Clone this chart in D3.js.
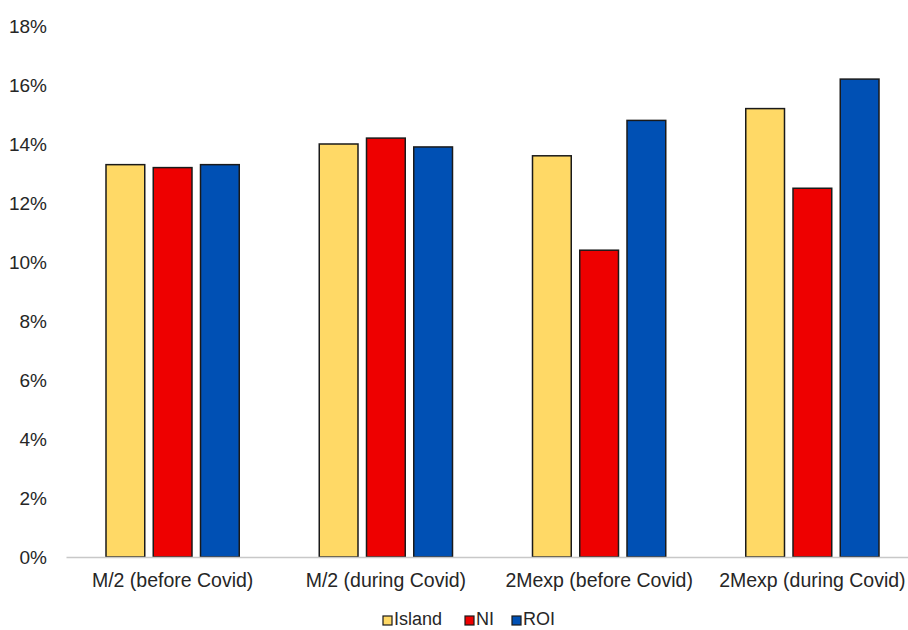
<!DOCTYPE html>
<html>
<head>
<meta charset="utf-8">
<script src="https://cdn.jsdelivr.net/npm/d3@7/dist/d3.min.js"></script>
<style>
  html, body { margin: 0; padding: 0; background: #fff; }
  svg { display: block; }
  text { font-family: "Liberation Sans", Arial, sans-serif; fill: #262626; }
</style>
</head>
<body>
<svg id="chart" width="908" height="630"></svg>
<script>
// Categories, series and tick labels
const categories = ["M/2 (before Covid)", "M/2 (during Covid)", "2Mexp (before Covid)", "2Mexp (during Covid)"];
const seriesNames = ["Island", "NI", "ROI"];
const islandValues = [13.3, 14.0, 13.6, 15.2];
const niValues = [13.2, 14.2, 10.4, 12.5];
const roiValues = [13.3, 13.9, 14.8, 16.2];
const yTicks = [0, 2, 4, 6, 8, 10, 12, 14, 16, 18];
const seriesColors = ["#FFD966", "#EE0000", "#0050B4"];

const seriesValues = [islandValues, niValues, roiValues];
const data = categories.map((c, i) => ({
  category: c,
  values: seriesNames.map((s, j) => ({ series: s, value: seriesValues[j][i] }))
}));

const svg = d3.select("#chart");
const margin = { left: 66, right: -11, top: 26, bottom: 73 };
const width = 908 - margin.left - margin.right;
const height = 630 - margin.top - margin.bottom;

const g = svg.append("g").attr("transform", `translate(${margin.left},${margin.top})`);

const x0 = d3.scaleBand().domain(categories).range([0, width]).padding(0);
const x1 = d3.scaleBand().domain(seriesNames)
  .range([40, x0.bandwidth() - 40]).paddingInner(0.18).paddingOuter(0);
const y = d3.scaleLinear().domain([0, 18]).range([height, 0]);
const color = d3.scaleOrdinal().domain(seriesNames).range(seriesColors);

// Y axis: labels only
const yAxis = d3.axisLeft(y).tickValues(yTicks).tickFormat(d => d + "%").tickSize(0).tickPadding(19);
g.append("g").call(yAxis)
  .call(a => a.select(".domain").remove())
  .selectAll("text").style("font-size", "19px").style("font-family", "'Liberation Sans', Arial, sans-serif").attr("fill", "#262626");

// Bars
const groups = g.selectAll(".grp").data(data).join("g")
  .attr("class", "grp")
  .attr("transform", d => `translate(${x0(d.category)},0)`);

groups.selectAll("rect").data(d => d.values).join("rect")
  .attr("x", d => x1(d.series))
  .attr("width", x1.bandwidth())
  .attr("y", d => y(d.value))
  .attr("height", d => y(0) - y(d.value))
  .attr("fill", d => color(d.series))
  .attr("stroke", "#1a1a1a")
  .attr("stroke-width", 1.5);

// X axis: baseline and category labels
const xAxis = d3.axisBottom(x0).tickSize(0).tickPadding(16);
const xg = g.append("g").attr("transform", `translate(0,${height})`).call(xAxis);
xg.select(".domain").attr("stroke", "#c8c8c8").attr("stroke-width", 1.5);
xg.selectAll("text").style("font-size", "19.5px").style("font-family", "'Liberation Sans', Arial, sans-serif").attr("fill", "#262626");

// Legend
const legend = svg.append("g").attr("transform", "translate(383,625)");
const legendOffsets = [0, 82, 129];
seriesNames.forEach((s, i) => {
  const item = legend.append("g").attr("transform", `translate(${legendOffsets[i]},0)`);
  item.append("rect").attr("x", 0).attr("y", -9).attr("width", 9).attr("height", 9)
    .attr("fill", color(s)).attr("stroke", "#1a1a1a").attr("stroke-width", 1.2);
  item.append("text").attr("x", 11).attr("y", 0)
    .style("font-size", "18px").text(s);
});
</script>
</body>
</html>
